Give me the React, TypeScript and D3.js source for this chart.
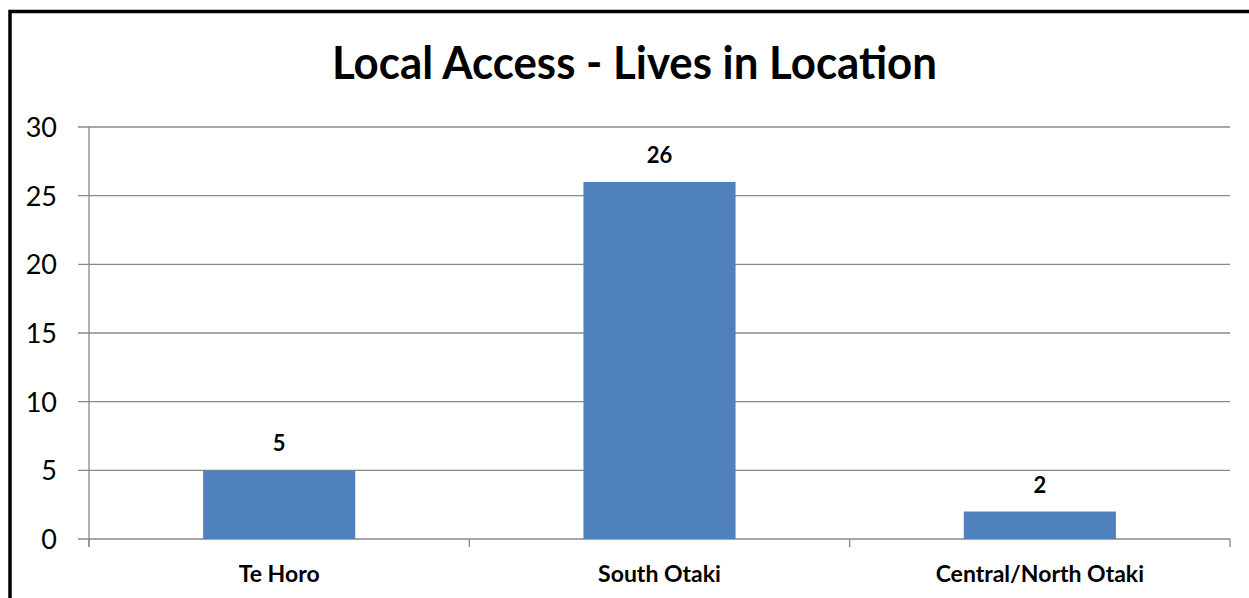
import React from "react";
import * as d3 from "d3";

const categories: string[] = ["Te Horo", "South Otaki", "Central/North Otaki"];
const values: number[] = [5, 26, 2];
const yTicks: number[] = [0, 5, 10, 15, 20, 25, 30];
const title = "Local Access - Lives in Location";

const W = 1249;
const H = 598;
const plotLeft = 89;
const plotRight = 1230;
const plotTop = 127;
const plotBottom = 539;
const FONT = "Lato, 'Open Sans', 'DejaVu Sans', sans-serif";
const GRID = "#888888";
const BAR = "#4F81BD";

export default function App() {
  const x = d3
    .scaleBand<string>()
    .domain(categories)
    .range([plotLeft, plotRight])
    .paddingInner(0.6)
    .paddingOuter(0.3);
  const y = d3.scaleLinear().domain([0, 30]).range([plotBottom, plotTop]);
  const step = x.step();
  const catBounds = d3.range(categories.length + 1).map((i) => plotLeft + i * step);

  return (
    <svg
      width={W}
      height={H}
      style={{ position: "absolute", left: 0, top: 0, display: "block", background: "#fff" }}
    >
      <rect x={0} y={0} width={W} height={H} fill="#fff" />
      <rect x={10} y={11.5} width={W + 20} height={H + 20} fill="none" stroke="#000" strokeWidth={3.5} />
      <text
        x={634.5}
        y={79}
        textAnchor="middle"
        fontFamily={FONT}
        fontWeight="bold"
        fontSize={45}
        textLength={605}
        lengthAdjust="spacingAndGlyphs"
        fill="#000"
      >
        {title}
      </text>
      {yTicks.map((t) => (
        <g key={t}>
          <line x1={78} x2={plotRight} y1={y(t)} y2={y(t)} stroke={GRID} strokeWidth={1.3} />
          <text
            x={57}
            y={y(t) + 10}
            textAnchor="end"
            fontFamily={FONT}
            fontSize={27}
            fill="#000"
          >
            {t}
          </text>
        </g>
      ))}
      <line x1={plotLeft} x2={plotLeft} y1={plotTop} y2={plotBottom + 8} stroke={GRID} strokeWidth={1.3} />
      {catBounds.map((b, i) => (
        <line key={i} x1={b} x2={b} y1={plotBottom} y2={plotBottom + 8} stroke={GRID} strokeWidth={1.3} />
      ))}
      {categories.map((c, i) => (
        <g key={c}>
          <rect
            x={x(c)!}
            y={y(values[i])}
            width={x.bandwidth()}
            height={plotBottom - y(values[i])}
            fill={BAR}
          />
          <text
            x={x(c)! + x.bandwidth() / 2}
            y={y(values[i]) - 19}
            textAnchor="middle"
            fontFamily={FONT}
            fontWeight="bold"
            fontSize={22}
            fill="#000"
          >
            {values[i]}
          </text>
          <text
            x={x(c)! + x.bandwidth() / 2}
            y={582}
            textAnchor="middle"
            fontFamily={FONT}
            fontWeight="bold"
            fontSize={23}
            fill="#000"
          >
            {c}
          </text>
        </g>
      ))}
    </svg>
  );
}
